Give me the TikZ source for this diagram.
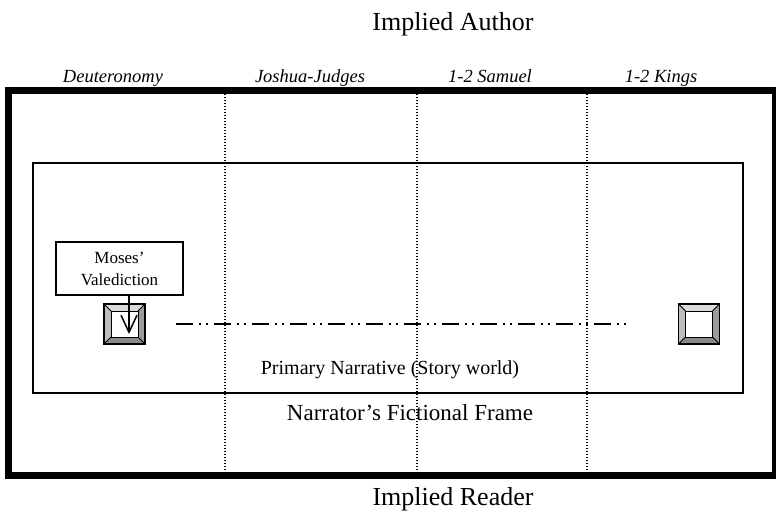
\documentclass[tikz,border=0pt]{standalone}
\usepackage{fontspec}
\setmainfont{Liberation Serif}
\usetikzlibrary{arrows.meta}

\definecolor{bevtop}{HTML}{DADADA}
\definecolor{bevleft}{HTML}{BDBDBD}
\definecolor{bevright}{HTML}{9C9C9C}
\definecolor{bevbottom}{HTML}{8A8A8A}

\begin{document}
\begin{tikzpicture}[x=1pt,y=-1pt,
  thinbox/.style={line width=1.5pt},
  divider/.style={line width=1.2pt,dash pattern=on 1.2pt off 1.8pt},
  book/.style={font=\fontsize{18.5}{20}\selectfont\itshape,anchor=base},
  voice/.style={font=\fontsize{26}{30}\selectfont,anchor=base},
  speaker/.style={draw,thinbox,minimum width=127pt,minimum height=53pt,
    align=center,font=\fontsize{17}{22}\selectfont},
  bevel/.style={draw,line width=1.3pt,minimum width=41pt,minimum height=40pt,inner sep=0pt,
    path picture={
      \coordinate (nw) at (path picture bounding box.north west);
      \coordinate (ne) at (path picture bounding box.north east);
      \coordinate (sw) at (path picture bounding box.south west);
      \coordinate (se) at (path picture bounding box.south east);
      \coordinate (inw) at ([shift={(7pt,-7pt)}]nw);
      \coordinate (ine) at ([shift={(-7pt,-7pt)}]ne);
      \coordinate (isw) at ([shift={(7pt,7pt)}]sw);
      \coordinate (ise) at ([shift={(-7pt,7pt)}]se);
      \fill[bevtop] (nw) -- (ne) -- (ine) -- (inw) -- cycle;
      \fill[bevleft] (nw) -- (inw) -- (isw) -- (sw) -- cycle;
      \fill[bevright] (ne) -- (se) -- (ise) -- (ine) -- cycle;
      \fill[bevbottom] (sw) -- (isw) -- (ise) -- (se) -- cycle;
      \draw[line width=0.8pt] (inw) rectangle (ise);
      \draw[line width=0.8pt] (nw) -- (inw) (ne) -- (ine) (sw) -- (isw) (se) -- (ise);
    }},
  chain/.style={line width=1.5pt,dash pattern=on 17pt off 6pt on 2pt off 5pt on 2pt off 6pt},
  arr/.style={line width=1.5pt,-{Straight Barb[length=17pt,width=16pt,line width=1.5pt]}}
]
\useasboundingbox (0,0) rectangle (776,514);

% outer frame and column dividers
\draw[line width=7pt] (8.5,90.5) rectangle (775.5,475);
\draw[divider] (225,94) -- (225,471);
\draw[divider] (417,94) -- (417,471);
\draw[divider] (587,94) -- (587,471);

% story world
\draw[thinbox] (33,163) rectangle (743,393);

\node[voice] (author) at (453,30) {Implied Author};
\node[voice] (reader) at (453,505) {Implied Reader};

\node[book] (deut) at (113,82) {Deuteronomy};
\node[book] (josh) at (310,82) {Joshua-Judges};
\node[book] (sam) at (490,82) {1-2 Samuel};
\node[book] (kgs) at (661,82) {1-2 Kings};

\node[speaker] (moses) at (119.5,268.5) {Moses'\\Valediction};

\node[bevel] (sqleft) at (124.5,324) {};
\node[bevel] (sqright) at (699,324) {};

\draw[chain,shorten <=30pt,shorten >=51pt] (sqleft) -- (sqright);
\draw[arr] ([xshift=9.5pt]moses.south) -- ([xshift=4.5pt,yshift=-10pt]sqleft.center);

\node[font=\fontsize{20}{24}\selectfont] (primary) at (390,370) {Primary Narrative (Story world)};
\node[font=\fontsize{23}{26}\selectfont] (narrator) at (410,413) {Narrator's Fictional Frame};
\end{tikzpicture}
\end{document}
